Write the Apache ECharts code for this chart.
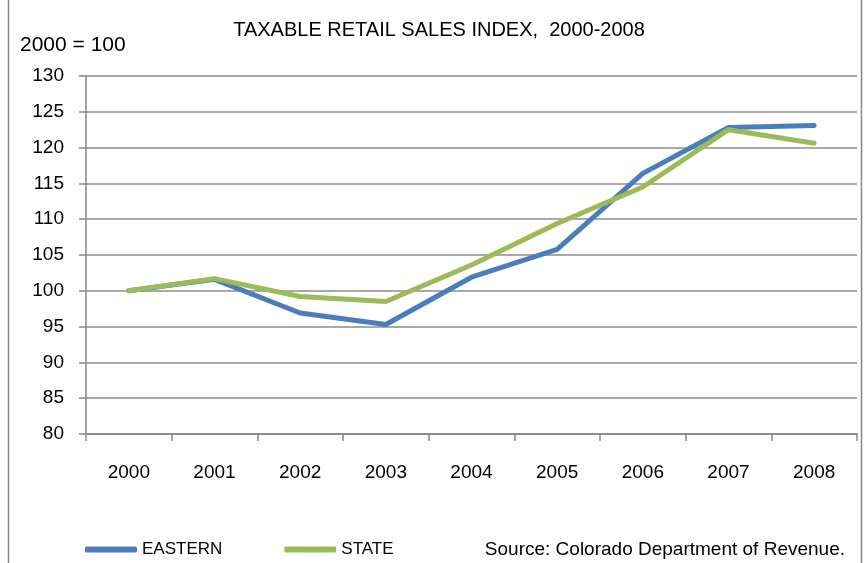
<!DOCTYPE html>
<html>
<head>
<meta charset="utf-8">
<script src="https://cdn.jsdelivr.net/npm/echarts@6/dist/echarts.min.js"></script>
<style>
html,body{margin:0;padding:0;background:#fff;}
#c{width:867px;height:563px;}
</style>
</head>
<body>
<div id="c"></div>
<script>
var categories = ['2000','2001','2002','2003','2004','2005','2006','2007','2008'];
var eastern = [100, 101.6, 96.9, 95.3, 101.9, 105.8, 116.4, 122.8, 123.1];
var state = [100, 101.7, 99.2, 98.5, 103.6, 109.4, 114.5, 122.5, 120.6];
var yTicks = [80, 85, 90, 95, 100, 105, 110, 115, 120, 125, 130];

var FONT = '"Liberation Sans", Arial, sans-serif';
var chart = echarts.init(document.getElementById('c'));
chart.setOption({
  animation: false,
  backgroundColor: '#fff',
  title: {
    text: 'TAXABLE RETAIL SALES INDEX,  2000-2008',
    left: 434, top: 15, textAlign: 'center',
    textStyle: {fontFamily: FONT, fontSize: 20, fontWeight: 'normal', color: '#000'}
  },
  legend: {
    data: ['EASTERN', 'STATE'],
    left: 80, top: 536,
    icon: 'roundRect',
    itemWidth: 52, itemHeight: 6, itemGap: 62,
    textStyle: {fontFamily: FONT, fontSize: 17, color: '#000'}
  },
  grid: {left: 86, right: 10, top: 76, bottom: 129, containLabel: false},
  xAxis: {
    type: 'category',
    data: categories,
    boundaryGap: true,
    axisLine: {lineStyle: {color: '#868686', width: 1.5}},
    axisTick: {show: true, alignWithLabel: false, length: 7, lineStyle: {color: '#868686', width: 1.5}},
    axisLabel: {margin: 29, fontFamily: FONT, fontSize: 19, color: '#000'}
  },
  yAxis: {
    type: 'value',
    min: yTicks[0], max: yTicks[yTicks.length - 1], interval: 5,
    axisLine: {show: true, lineStyle: {color: '#868686', width: 1.5}},
    axisTick: {show: true, inside: false, length: 7, lineStyle: {color: '#868686', width: 1.5}},
    axisLabel: {margin: 22, fontFamily: FONT, fontSize: 19, color: '#000'},
    splitLine: {show: true, lineStyle: {color: '#8c8c8c', width: 1.5}}
  },
  series: [
    {name: 'EASTERN', type: 'line', data: eastern, symbol: 'none', color: '#4a7ebb',
     lineStyle: {width: 5, color: '#4a7ebb', cap: 'round', join: 'round'}},
    {name: 'STATE', type: 'line', data: state, symbol: 'none', color: '#9bbb59',
     lineStyle: {width: 5, color: '#9bbb59', cap: 'round', join: 'round'}}
  ],
  graphic: [
    {type: 'text', left: 20, top: 35, style: {text: '2000 = 100', font: '21px ' + FONT, fill: '#000'}},
    {type: 'text', right: 22, top: 540, style: {text: 'Source: Colorado Department of Revenue.', font: '19px ' + FONT, fill: '#000'}},
    {type: 'line', shape: {x1: 8.5, y1: 0, x2: 8.5, y2: 563}, style: {stroke: '#868686', lineWidth: 1.5}},
    {type: 'line', shape: {x1: 861.5, y1: 0, x2: 861.5, y2: 563}, style: {stroke: '#868686', lineWidth: 1.5}}
  ]
});
</script>
</body>
</html>
